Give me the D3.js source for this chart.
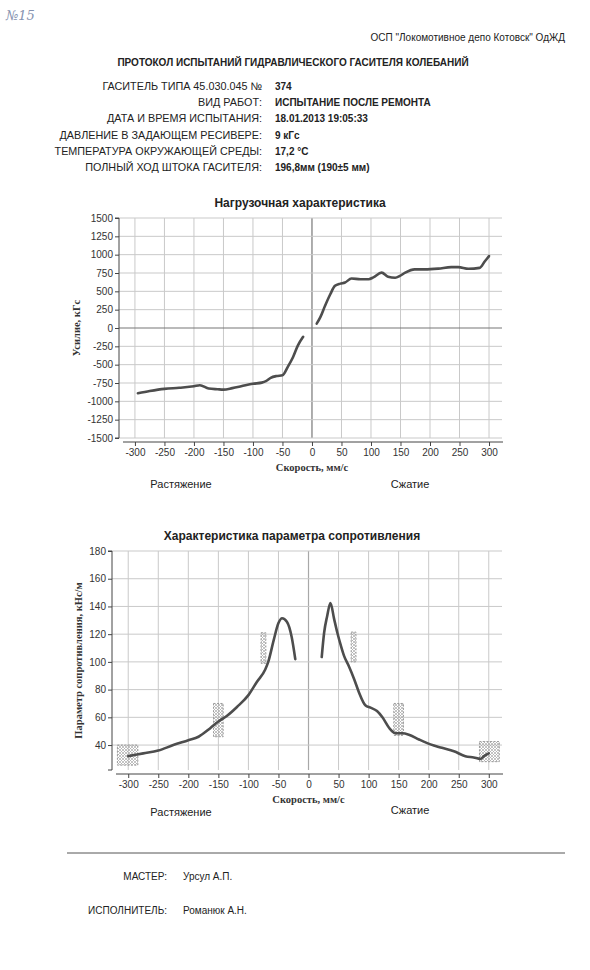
<!DOCTYPE html>
<html>
<head>
<meta charset="utf-8">
<script src="https://cdn.jsdelivr.net/npm/d3@7"></script>
<style>
  body { margin: 0; background: #fff; }
  svg { display: block; }
  .hdr { font-family: "Liberation Sans", Arial, sans-serif; fill: #222; }
  .tick text { font-family: "Liberation Sans Narrow", "Liberation Sans", Arial, sans-serif; font-size: 10px; fill: #333; }
</style>
</head>
<body>
<div id="page"></div>
<script>
// header info
const headLabels = ["ГАСИТЕЛЬ ТИПА 45.030.045 №", "ВИД РАБОТ:", "ДАТА И ВРЕМЯ ИСПЫТАНИЯ:",
  "ДАВЛЕНИЕ В ЗАДАЮЩЕМ РЕСИВЕРЕ:", "ТЕМПЕРАТУРА ОКРУЖАЮЩЕЙ СРЕДЫ:", "ПОЛНЫЙ ХОД ШТОКА ГАСИТЕЛЯ:"];
const headValues = ["374", "ИСПЫТАНИЕ ПОСЛЕ РЕМОНТА", "18.01.2013 19:05:33", "9 кГс", "17,2 °C", "196,8мм (190±5 мм)"];

// ticks
const speedTicks = [-300, -250, -200, -150, -100, -50, 0, 50, 100, 150, 200, 250, 300];
const forceTicks = [-1500, -1250, -1000, -750, -500, -250, 0, 250, 500, 750, 1000, 1250, 1500];
const resTicks = [40, 60, 80, 100, 120, 140, 160, 180];

// load characteristic: tension branch and compression branch
const loadTensionX = [-295, -275, -250, -225, -200, -190, -175, -160, -150, -135, -120, -100, -85, -78, -70, -60, -50, -41, -32, -24, -15];
const loadTensionY = [-890, -860, -830, -815, -795, -780, -825, -835, -840, -820, -795, -760, -745, -725, -680, -655, -645, -530, -395, -240, -120];
const loadCompX = [8, 14, 22, 31, 39, 48, 56, 67, 82, 96, 104, 118, 129, 141, 149, 158, 174, 191, 214, 236, 248, 265, 284, 293, 300];
const loadCompY = [60, 145, 300, 460, 575, 605, 620, 675, 665, 665, 690, 755, 700, 685, 710, 755, 800, 800, 810, 830, 830, 807, 820, 910, 980];

// resistance parameter
const resTensionX = [-300, -275, -250, -225, -200, -183, -164, -150, -136, -119, -100, -86, -72, -67, -58, -50, -44, -36, -28, -22];
const resTensionY = [32, 34, 36, 40, 43.5, 46, 52, 57, 61, 67.5, 76, 85.5, 94.5, 100, 115.5, 128, 131.5, 129, 118, 102];
const resCompX = [22, 26, 31, 36.5, 42.6, 48, 54, 59, 67, 76, 84, 95, 103, 114, 123, 134, 145, 156, 167, 184, 203, 222, 242, 261, 275, 286, 292, 300];
const resCompY = [103.5, 121, 133, 142.5, 131, 121, 111.5, 104.5, 97, 87.5, 78, 68.5, 67, 64.5, 60, 52.5, 48.5, 48.5, 47.5, 44, 40.5, 38, 35.5, 32, 31, 30, 32, 34];

// tolerance boxes
const boxCenter = [-301, -150, -75, 75, 150, 301];
const boxHalf = [17, 8, 4, 4, 8, 16.5];
const boxLow = [25.5, 46, 99, 100, 47, 28];
const boxHigh = [40, 70, 121, 121.5, 70, 42.5];

const W = 590, H = 970;
const svg = d3.select("#page").append("svg").attr("width", W).attr("height", H);

const defs = svg.append("defs");
const pat = defs.append("pattern").attr("id", "hatch").attr("patternUnits", "userSpaceOnUse")
  .attr("width", 3).attr("height", 3);
pat.append("path").attr("d", "M0,0 L3,3 M3,0 L0,3").attr("stroke", "#aaa").attr("stroke-width", 0.7);

// handwritten mark
svg.append("text").attr("x", 6).attr("y", 20).attr("font-family", "DejaVu Serif, serif")
  .attr("font-style", "italic").attr("font-size", 13).attr("fill", "#8592b0").text("№15");

svg.append("text").attr("class", "hdr").attr("x", 565).attr("y", 41).attr("text-anchor", "end")
  .attr("font-size", 10).text("ОСП \"Локомотивное депо Котовск\" ОдЖД");
svg.append("text").attr("class", "hdr").attr("x", 293).attr("y", 66).attr("text-anchor", "middle")
  .attr("font-size", 10).attr("font-weight", "bold").text("ПРОТОКОЛ ИСПЫТАНИЙ ГИДРАВЛИЧЕСКОГО ГАСИТЕЛЯ КОЛЕБАНИЙ");

headLabels.forEach((t, i) => {
  const y = 90 + i * 16.2;
  svg.append("text").attr("class", "hdr").attr("x", 262).attr("y", y).attr("text-anchor", "end")
    .attr("font-size", 10.8).text(t);
  svg.append("text").attr("class", "hdr").attr("x", 275).attr("y", y)
    .attr("font-size", 10).attr("font-weight", "bold").text(headValues[i]);
});

// generic chart drawing
function drawChart(opt) {
  const g = svg.append("g");
  const x = d3.scaleLinear().domain([-327, 322]).range([opt.left, 502]);
  const y = d3.scaleLinear().domain(opt.yDomain).range([opt.bottom, opt.top]);

  // grid
  g.append("g").selectAll("line").data(speedTicks).join("line")
    .attr("x1", d => x(d)).attr("x2", d => x(d))
    .attr("y1", opt.top).attr("y2", opt.bottom)
    .attr("stroke", d => d === 0 ? opt.zeroColor : "#c9c9c9").attr("stroke-width", d => d === 0 ? 1.2 : 1);
  g.append("g").selectAll("line").data(opt.yTicks).join("line")
    .attr("x1", opt.left).attr("x2", 502)
    .attr("y1", d => y(d)).attr("y2", d => y(d))
    .attr("stroke", d => d === 0 ? opt.zeroColor : "#c9c9c9").attr("stroke-width", d => d === 0 ? 1.2 : 1);

  // axes
  g.append("g").attr("transform", `translate(${opt.left},0)`)
    .call(d3.axisLeft(y).tickValues(opt.yTicks).tickFormat(d => String(d)).tickSize(4).tickPadding(2))
    .call(a => a.select(".domain").attr("stroke", "#444").attr("d", `M-4,${y(opt.yTicks[opt.yTicks.length - 1])}H0V${opt.bottom}H-4`))
    .call(a => a.selectAll(".tick line").attr("stroke", "#444"));

  const xg = g.append("g").attr("transform", `translate(0,${opt.bottom + 4})`)
    .call(d3.axisBottom(x).tickValues(speedTicks).tickFormat(d => String(d)).tickSize(4).tickPadding(3))
    .call(a => a.selectAll(".tick line").attr("stroke", "#444"));
  xg.select(".domain").attr("stroke", "#444").attr("d", `M${opt.left + 4},0H503`);

  // tolerance boxes
  if (opt.boxes) {
    boxCenter.forEach((c, i) => {
      g.append("rect")
        .attr("x", x(c - boxHalf[i])).attr("width", x(c + boxHalf[i]) - x(c - boxHalf[i]))
        .attr("y", y(boxHigh[i])).attr("height", y(boxLow[i]) - y(boxHigh[i]))
        .attr("fill", "url(#hatch)").attr("stroke", "#999").attr("stroke-width", 1)
        .attr("stroke-dasharray", "2,1.5");
    });
  }

  const line = d3.line().x(d => x(d[0])).y(d => y(d[1])).curve(d3.curveMonotoneX);
  opt.series.forEach(s => {
    g.append("path").datum(d3.zip(s[0], s[1])).attr("d", line)
      .attr("fill", "none").attr("stroke", "#4d4d4d").attr("stroke-width", 2.6)
      .attr("stroke-linejoin", "round").attr("stroke-linecap", "round");
  });

  // titles and labels
  g.append("text").attr("class", "hdr").attr("x", opt.titleX).attr("y", opt.top - 11)
    .attr("text-anchor", "middle").attr("font-size", 12).attr("font-weight", "bold").text(opt.title);
  g.append("text").attr("transform", `translate(${opt.yLabelX},${(opt.top + opt.bottom) / 2}) rotate(-90)`)
    .attr("text-anchor", "middle").attr("font-family", "Liberation Serif, serif").attr("font-weight", "bold")
    .attr("font-size", 10.5).attr("fill", "#333").text(opt.yLabel);
  g.append("text").attr("x", x(0)).attr("y", opt.bottom + 33).attr("text-anchor", "middle")
    .attr("font-family", "Liberation Serif, serif").attr("font-weight", "bold")
    .attr("font-size", 10.5).attr("fill", "#333").text("Скорость, мм/с");
  g.append("text").attr("class", "hdr").attr("x", 181).attr("y", opt.bottom + opt.sideDy)
    .attr("text-anchor", "middle").attr("font-size", 11).text("Растяжение");
  g.append("text").attr("class", "hdr").attr("x", 410).attr("y", opt.bottom + opt.sideDy - opt.rightLift)
    .attr("text-anchor", "middle").attr("font-size", 11).text("Сжатие");
}

drawChart({
  left: 119, top: 218, bottom: 438,
  yDomain: [-1500, 1500], yTicks: forceTicks, zeroColor: "#777",
  title: "Нагрузочная характеристика", titleX: 300,
  yLabel: "Усилие, кГс", yLabelX: 80, sideDy: 50, rightLift: 0,
  series: [[loadTensionX, loadTensionY], [loadCompX, loadCompY]]
});

drawChart({
  left: 112, top: 551, bottom: 770,
  yDomain: [22, 180], yTicks: resTicks, zeroColor: "#a8a8a8",
  title: "Характеристика параметра сопротивления", titleX: 292,
  yLabel: "Параметр сопротивления, кНс/м", yLabelX: 82, sideDy: 46, rightLift: 2,
  boxes: true,
  series: [[resTensionX, resTensionY], [resCompX, resCompY]]
});

// footer
svg.append("line").attr("x1", 67).attr("x2", 565).attr("y1", 853).attr("y2", 853)
  .attr("stroke", "#555").attr("stroke-width", 1);
svg.append("text").attr("class", "hdr").attr("x", 167).attr("y", 880).attr("text-anchor", "end")
  .attr("font-size", 10).text("МАСТЕР:");
svg.append("text").attr("class", "hdr").attr("x", 183).attr("y", 880).attr("font-size", 10).text("Урсул А.П.");
svg.append("text").attr("class", "hdr").attr("x", 167).attr("y", 914).attr("text-anchor", "end")
  .attr("font-size", 10).text("ИСПОЛНИТЕЛЬ:");
svg.append("text").attr("class", "hdr").attr("x", 183).attr("y", 914).attr("font-size", 10).text("Романюк А.Н.");
</script>
</body>
</html>
